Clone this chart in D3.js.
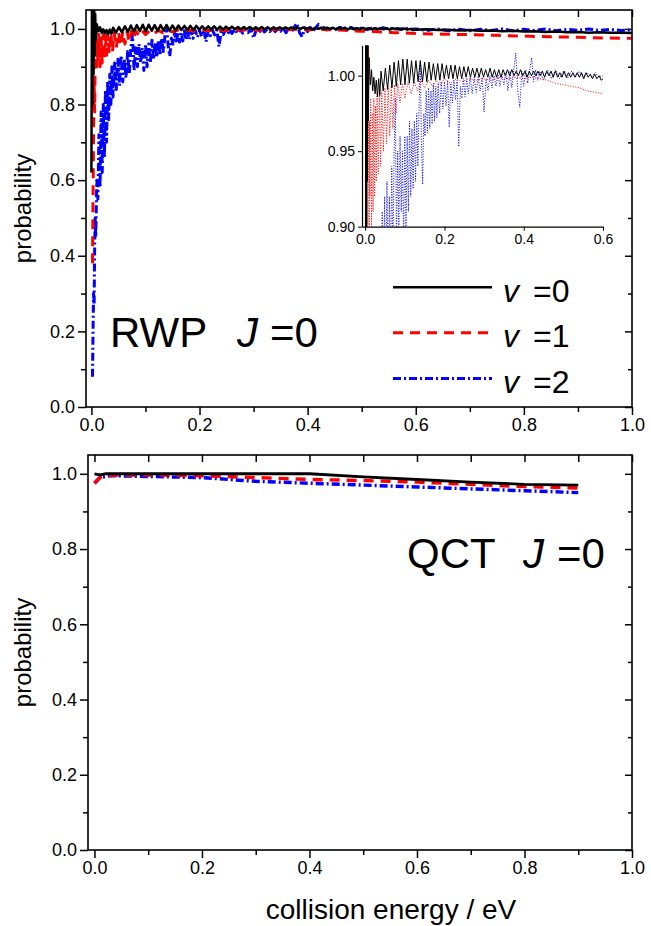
<!DOCTYPE html>
<html>
<head>
<meta charset="utf-8">
<script src="https://cdn.jsdelivr.net/npm/d3@7"></script>
<style>
  body { margin: 0; background: #fff; }
  svg { display: block; }
</style>
</head>
<body>
<svg id="chart" width="651" height="926"></svg>
<script>
// ---- data ----
// RWP, J = 0, [collision energy (eV), probability]
const rwpV0 = [
  [0.000,0.62],[0.001,1.06],[0.002,0.80],[0.003,1.06],[0.004,0.88],[0.005,1.06],[0.006,0.93],[0.007,1.04],[0.008,0.97],[0.010,1.012],
  [0.013,0.994],[0.016,1.004],[0.019,0.990],[0.022,0.999],[0.025,0.988],[0.028,0.997],[0.031,0.986],[0.034,0.998],[0.037,0.987],
  [0.040,1.003],[0.0455,0.990],[0.051,1.005],[0.0565,0.991],[0.062,1.007],[0.0675,0.992],[0.073,1.009],[0.0785,0.993],[0.084,1.010],[0.0895,0.994],
  [0.095,1.011],[0.1005,0.994],[0.106,1.011],[0.1115,0.995],[0.117,1.010],[0.1225,0.995],[0.128,1.010],[0.1335,0.996],[0.139,1.010],[0.1445,0.996],
  [0.150,1.009],[0.1555,0.996],[0.161,1.009],[0.1665,0.997],[0.172,1.008],[0.1775,0.997],[0.183,1.008],[0.1885,0.997],[0.194,1.008],[0.1995,0.998],
  [0.205,1.007],[0.2105,0.998],[0.216,1.007],[0.2215,0.998],[0.227,1.007],[0.2325,0.998],[0.238,1.006],[0.2435,0.998],[0.249,1.006],[0.2545,0.999],
  [0.260,1.006],[0.2655,0.999],[0.271,1.005],[0.2765,0.999],[0.282,1.005],[0.2875,0.999],[0.293,1.005],[0.2985,0.999],[0.304,1.004],[0.3095,0.999],
  [0.315,1.005],[0.3205,0.999],[0.326,1.004],[0.3315,0.999],[0.337,1.004],[0.3425,0.999],[0.348,1.004],[0.3535,1.000],[0.359,1.004],[0.3645,1.000],
  [0.370,1.004],[0.3755,1.000],[0.381,1.003],[0.3865,1.000],[0.392,1.004],[0.3975,1.000],[0.403,1.003],[0.4085,0.999],[0.414,1.003],[0.4195,1.000],
  [0.425,1.003],[0.4305,1.000],[0.436,1.003],[0.4415,1.000],[0.447,1.003],[0.4525,0.999],[0.458,1.003],[0.4635,1.000],[0.469,1.003],[0.4745,0.999],
  [0.480,1.003],[0.4855,0.999],[0.491,1.002],[0.4965,0.999],[0.502,1.003],[0.5075,0.999],[0.513,1.002],[0.5185,0.999],[0.524,1.002],[0.5295,0.999],
  [0.535,1.002],[0.5405,0.999],[0.546,1.002],[0.5515,0.998],[0.557,1.002],[0.5625,0.999],[0.568,1.001],[0.5735,0.998],[0.579,1.001],[0.5845,0.998],
  [0.590,1.000],[0.5955,0.997],[0.600,0.998],
  [0.62,0.999],[0.64,0.997],[0.66,0.998],[0.68,0.996],[0.70,0.997],[0.72,0.995],[0.74,0.996],[0.76,0.994],[0.78,0.995],[0.80,0.993],
  [0.82,0.994],[0.84,0.992],[0.86,0.993],[0.88,0.991],[0.90,0.992],[0.92,0.990],[0.94,0.991],[0.96,0.990],[0.98,0.990],[1.00,0.989]
];

const rwpV1 = [
  [0.002,0.38],[0.003,0.55],[0.004,0.72],[0.005,0.86],[0.006,0.78],[0.007,0.93],[0.008,1.02],[0.009,0.95],[0.010,0.90],[0.011,0.97],
  [0.012,0.92],[0.014,0.985],[0.016,0.90],[0.018,0.975],[0.020,0.91],[0.022,0.985],[0.024,0.92],[0.026,0.98],[0.028,0.93],[0.030,0.988],
  [0.033,0.935],[0.036,0.99],[0.039,0.94],[0.042,0.99],[0.046,0.95],[0.050,0.992],[0.054,0.955],[0.058,0.993],[0.062,0.96],[0.066,0.993],
  [0.070,0.965],[0.074,0.994],[0.078,0.975],[0.082,0.995],[0.088,0.982],[0.094,0.995],[0.100,0.985],[0.108,0.996],[0.116,0.988],[0.124,0.996],
  [0.132,0.990],[0.140,0.997],[0.150,0.992],[0.160,0.997],[0.170,0.993],[0.180,0.997],[0.190,0.994],[0.200,0.998],[0.215,0.995],[0.230,0.998],
  [0.245,0.996],[0.260,0.998],[0.280,0.997],[0.300,0.998],[0.320,0.997],[0.340,0.999],[0.360,0.998],[0.380,0.999],[0.400,0.998],[0.420,0.999],
  [0.440,0.998],[0.460,0.997],[0.480,0.995],[0.500,0.994],[0.520,0.993],[0.540,0.992],[0.560,0.990],[0.580,0.989],[0.600,0.988],
  [0.650,0.986],[0.700,0.985],[0.750,0.983],[0.800,0.981],[0.850,0.979],[0.900,0.978],[0.950,0.976],[1.000,0.975]
];

const rwpV2 = [
  [0.002,0.08],[0.003,0.20],[0.004,0.30],[0.005,0.27],[0.006,0.42],[0.007,0.50],[0.008,0.45],[0.010,0.60],[0.012,0.55],[0.014,0.72],
  [0.016,0.58],[0.018,0.78],[0.020,0.62],[0.022,0.80],[0.024,0.66],[0.026,0.84],[0.028,0.70],[0.030,0.86],[0.032,0.76],[0.034,0.88],
  [0.036,0.80],[0.038,0.90],[0.040,0.82],[0.043,0.91],[0.046,0.84],[0.049,0.92],[0.052,0.85],[0.055,0.93],[0.058,0.86],[0.061,0.92],
  [0.064,0.87],[0.067,0.94],[0.070,0.88],[0.073,0.95],[0.076,0.985],[0.079,0.89],[0.082,0.95],[0.085,0.90],[0.088,0.96],[0.091,0.91],
  [0.094,0.95],[0.097,0.89],[0.100,0.96],[0.103,0.90],[0.106,0.96],[0.109,0.91],[0.112,0.97],[0.115,0.92],[0.118,0.965],[0.121,0.925],
  [0.124,0.97],[0.127,0.93],[0.130,0.975],[0.133,0.94],[0.136,0.98],[0.139,1.008],[0.142,0.955],[0.145,0.928],[0.148,0.975],[0.151,0.96],
  [0.154,0.99],[0.157,0.962],[0.160,0.992],[0.163,0.965],[0.166,0.99],[0.169,0.968],[0.172,0.995],[0.175,0.97],[0.178,0.993],[0.181,0.972],
  [0.184,0.995],[0.188,0.975],[0.192,0.996],[0.196,0.978],[0.200,0.996],[0.204,0.98],[0.208,0.997],[0.212,0.966],[0.216,0.995],[0.220,0.982],
  [0.224,0.997],[0.228,0.984],[0.232,0.997],[0.236,0.953],[0.240,0.993],[0.244,0.985],[0.248,0.998],[0.252,0.986],[0.256,0.998],[0.260,0.988],
  [0.265,0.999],[0.270,0.988],[0.275,0.999],[0.280,0.989],[0.285,0.999],[0.290,0.990],[0.295,0.999],[0.300,0.976],[0.305,0.998],[0.310,0.990],
  [0.315,1.000],[0.320,0.992],[0.325,1.000],[0.330,0.993],[0.335,1.001],[0.340,0.993],[0.345,1.001],[0.350,0.994],[0.355,1.002],[0.360,0.990],
  [0.365,1.003],[0.370,0.992],[0.375,1.004],[0.380,1.015],[0.385,0.990],[0.390,0.979],[0.395,1.003],[0.400,0.993],[0.405,1.004],[0.410,0.995],
  [0.415,1.003],[0.420,1.012],[0.425,0.996],[0.430,1.004],[0.435,0.997],[0.440,1.003],[0.450,0.997],[0.460,1.004],[0.470,0.998],[0.480,1.004],
  [0.490,0.998],[0.500,1.003],[0.510,0.998],[0.520,1.003],[0.530,0.999],[0.540,1.003],[0.550,0.999],[0.560,1.002],[0.570,0.999],[0.580,1.002],
  [0.590,0.999],[0.600,1.000],
  [0.62,0.996],[0.64,1.000],[0.66,0.995],[0.68,0.999],[0.70,0.995],[0.72,0.999],[0.74,0.996],[0.76,1.000],[0.78,0.995],[0.80,0.999],
  [0.82,0.996],[0.84,1.000],[0.86,0.995],[0.88,0.999],[0.90,0.996],[0.92,1.000],[0.94,0.996],[0.96,0.999],[0.98,0.996],[1.00,0.997]
];

// QCT, J = 0
const qctV0 = [[0.0,1.0],[0.01,0.997],[0.02,1.0],[0.05,1.0],[0.1,1.0],[0.2,1.0],[0.3,1.0],[0.4,1.0],[0.5,0.992],[0.6,0.985],[0.7,0.978],[0.8,0.972],[0.9,0.970]];
const qctV1 = [[0.0,0.975],[0.01,0.99],[0.02,0.995],[0.05,0.997],[0.1,0.997],[0.2,0.995],[0.3,0.99],[0.4,0.985],[0.5,0.982],[0.6,0.978],[0.7,0.972],[0.8,0.966],[0.9,0.962]];
const qctV2 = [[0.0,0.975],[0.01,0.99],[0.03,0.995],[0.1,0.993],[0.2,0.99],[0.3,0.98],[0.4,0.975],[0.5,0.97],[0.6,0.965],[0.7,0.96],[0.8,0.955],[0.9,0.95]];

const legendLabels = ['0', '1', '2'];
const xMajor = [0, 0.2, 0.4, 0.6, 0.8, 1.0];
const xMinor = [0.1, 0.3, 0.5, 0.7, 0.9];
const yMajor = [0, 0.2, 0.4, 0.6, 0.8, 1.0];
const yMinor = [0.1, 0.3, 0.5, 0.7, 0.9];
const insetXTicks = [0, 0.2, 0.4, 0.6];
const insetYTicks = [0.90, 0.95, 1.00];

const FONT = '"Liberation Sans", Arial, Helvetica, sans-serif';
const svg = d3.select('#chart');

// main line styles, one per vibrational state
const styles = [
  { color: '#000', width: 2.5, dash: null },
  { color: '#ff0000', width: 3, dash: '10,7' },
  { color: '#0000ff', width: 3, dash: '8,3,2,3' }
];

class ProbabilityPanel {

  constructor(_config, _series) {
    this.config = _config;
    this.series = _series;
    this.initVis();
  }

  initVis() {
    let vis = this;
    let c = vis.config;

    vis.x = d3.scaleLinear().domain(c.xDomain).range([c.left, c.right]);
    vis.y = d3.scaleLinear().domain([0, 1.05]).range([c.bottom, c.top]);
    vis.g = svg.append('g');

    vis.g.append('clipPath').attr('id', c.id + '-clip')
      .append('rect')
      .attr('x', c.left).attr('y', c.top)
      .attr('width', c.right - c.left).attr('height', c.bottom - c.top);

    // outward ticks on bottom / left
    vis.addAxis(d3.axisBottom(vis.x).tickValues(xMajor).tickSize(8).tickPadding(3).tickFormat(d3.format('.1f')), `translate(0,${c.bottom})`);
    vis.addAxis(d3.axisBottom(vis.x).tickValues(xMinor).tickSize(5).tickFormat(''), `translate(0,${c.bottom})`);
    vis.addAxis(d3.axisLeft(vis.y).tickValues(yMajor).tickSize(8).tickPadding(3).tickFormat(d3.format('.1f')), `translate(${c.left},0)`);
    vis.addAxis(d3.axisLeft(vis.y).tickValues(yMinor).tickSize(5).tickFormat(''), `translate(${c.left},0)`);
    // inward mirror ticks on top / right
    vis.addAxis(d3.axisBottom(vis.x).tickValues(xMajor.concat(xMinor)).tickSize(7).tickFormat(''), `translate(0,${c.top})`);
    vis.addAxis(d3.axisLeft(vis.y).tickValues(yMajor).tickSize(7).tickFormat(''), `translate(${c.right},0)`);
    vis.addAxis(d3.axisLeft(vis.y).tickValues(yMinor).tickSize(4).tickFormat(''), `translate(${c.right},0)`);

    vis.line = d3.line().x(d => vis.x(d[0])).y(d => vis.y(d[1]));
    vis.lines = vis.g.append('g').attr('clip-path', `url(#${c.id}-clip)`);
    vis.lines.selectAll('path')
      .data(vis.series.map((s, i) => ({ s, i })).reverse())
      .join('path')
      .attr('d', d => vis.line(d.s))
      .attr('fill', 'none')
      .attr('stroke', d => styles[d.i].color)
      .attr('stroke-width', d => styles[d.i].width * c.widthScale)
      .attr('stroke-dasharray', d => styles[d.i].dash)
      .attr('stroke-linejoin', 'round');

    vis.g.append('rect')
      .attr('x', c.left).attr('y', c.top)
      .attr('width', c.right - c.left).attr('height', c.bottom - c.top)
      .attr('fill', 'none').attr('stroke', '#000').attr('stroke-width', 1.6);

    vis.g.append('text')
      .attr('transform', `translate(31,${(c.top + c.bottom) / 2}) rotate(-90)`)
      .attr('text-anchor', 'middle')
      .attr('font-family', FONT).attr('font-size', 24)
      .text('probability');

    // panel tag, e.g. "RWP  J =0"
    let tag = vis.g.append('text').attr('font-family', FONT).attr('font-size', 42)
      .attr('y', c.tagY);
    tag.append('tspan').attr('x', c.tagX[0]).text(c.tag);
    tag.append('tspan').attr('x', c.tagX[1]).attr('font-style', 'italic').text('J');
    tag.append('tspan').attr('x', c.tagX[2]).text('=0');
  }

  addAxis(axis, transform) {
    let vis = this;
    vis.g.append('g')
      .attr('transform', transform)
      .call(axis)
      .call(a => a.select('.domain').remove())
      .call(a => a.selectAll('line').attr('stroke-width', 1.5))
      .attr('font-family', FONT)
      .attr('font-size', 18);
  }
}

const rwpPanel = new ProbabilityPanel({
  id: 'rwp', left: 86, right: 632, top: 10, bottom: 407, xDomain: [-0.01, 1.0],
  widthScale: 1, tag: 'RWP', tagX: [110, 237, 270], tagY: 347
}, [rwpV0, rwpV1, rwpV2]);

const qctPanel = new ProbabilityPanel({
  id: 'qct', left: 88, right: 632, top: 455, bottom: 850, xDomain: [-0.012, 1.0],
  widthScale: 1.15, tag: 'QCT', tagX: [407, 523, 557], tagY: 568
}, [qctV0, qctV1, qctV2]);

svg.append('text')
  .attr('x', 391).attr('y', 919)
  .attr('text-anchor', 'middle')
  .attr('font-family', FONT).attr('font-size', 28)
  .text('collision energy / eV');

// legend
const legendY = d3.scalePoint().domain(legendLabels).range([301.7, 393]);
const legend = svg.append('g').selectAll('g').data(legendLabels).join('g');
legend.append('line')
  .attr('x1', 393).attr('x2', 492)
  .attr('y1', d => legendY(d) - 14.5).attr('y2', d => legendY(d) - 14.5)
  .attr('stroke', (d, i) => styles[i].color)
  .attr('stroke-width', (d, i) => styles[i].width)
  .attr('stroke-dasharray', (d, i) => styles[i].dash);
const legendText = legend.append('text')
  .attr('y', d => legendY(d))
  .attr('font-family', FONT).attr('font-size', 32);
legendText.append('tspan').attr('x', 503).attr('font-style', 'italic').text('v');
legendText.append('tspan').attr('x', 533).text(d => '=' + d);

// inset: zoom on the RWP curves near 1
const ix = d3.scaleLinear().domain([-0.008, 0.6]).range([362, 603]);
const iy = d3.scaleLinear().domain([0.90, 1.02]).range([226.7, 45.5]);
const inset = svg.append('g');
inset.append('clipPath').attr('id', 'inset-clip')
  .append('rect').attr('x', ix.range()[0]).attr('y', iy.range()[1])
  .attr('width', ix.range()[1] - ix.range()[0]).attr('height', iy.range()[0] - iy.range()[1]);

const insetLine = d3.line().x(d => ix(d[0])).y(d => iy(d[1]));
const insetStyles = [
  { color: '#000', width: 1, dash: null },
  { color: '#ff0000', width: 1, dash: '1,1.6' },
  { color: '#0000ff', width: 1, dash: '1,1.6' }
];
inset.append('g').attr('clip-path', 'url(#inset-clip)')
  .selectAll('path')
  .data([rwpV2, rwpV1, rwpV0])
  .join('path')
  .attr('d', d => insetLine(d.filter(p => p[0] <= 0.6)))
  .attr('fill', 'none')
  .attr('stroke', (d, i) => insetStyles[2 - i].color)
  .attr('stroke-width', (d, i) => insetStyles[2 - i].width)
  .attr('stroke-dasharray', (d, i) => insetStyles[2 - i].dash);

inset.append('g')
  .attr('transform', `translate(0,${iy.range()[0]})`)
  .call(d3.axisBottom(ix).tickValues(insetXTicks).tickSize(4).tickSizeOuter(0).tickPadding(3).tickFormat(d3.format('.1f')))
  .attr('font-family', FONT).attr('font-size', 14);
inset.append('g')
  .attr('transform', `translate(${ix.range()[0]},0)`)
  .call(d3.axisLeft(iy).tickValues(insetYTicks).tickSize(4).tickSizeOuter(0).tickPadding(3).tickFormat(d3.format('.2f')))
  .attr('font-family', FONT).attr('font-size', 14);
inset.selectAll('.domain').attr('stroke-width', 1.2);
</script>
</body>
</html>
